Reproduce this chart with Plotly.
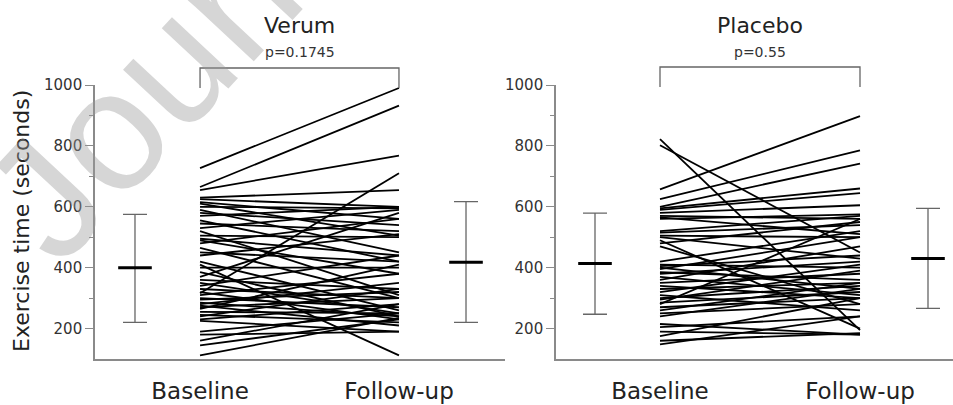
import plotly.graph_objects as go

# ---------------- data ----------------
verum_baseline = [727, 665, 655, 316, 630, 625, 615, 610, 600, 590,
                  580, 570, 555, 545, 530, 520, 505, 495, 490, 480,
                  465, 450, 440, 420, 410, 400, 385, 370, 360, 350,
                  340, 330, 320, 310, 300, 295, 285, 280, 275, 270,
                  265, 255, 245, 240, 230, 225, 190, 180, 160, 145, 112]
verum_followup = [990, 932, 768, 710, 655, 600, 560, 505, 595, 450,
                  540, 600, 420, 520, 590, 310, 500, 440, 380, 560,
                  300, 420, 510, 260, 112, 400, 240, 580, 330, 250,
                  440, 300, 230, 380, 270, 320, 240, 350, 210, 300,
                  410, 250, 220, 330, 280, 190, 250, 190, 280, 230, 235]

placebo_baseline = [822, 802, 657, 625, 600, 595, 590, 580, 570, 565,
                    560, 520, 515, 505, 500, 490, 480, 470, 420, 410,
                    405, 400, 395, 385, 380, 370, 360, 350, 340, 330,
                    320, 310, 300, 295, 285, 280, 270, 260, 250, 240,
                    215, 205, 190, 175, 160, 148]
placebo_followup = [195, 450, 898, 785, 742, 660, 645, 605, 560, 510,
                    575, 570, 540, 500, 430, 200, 550, 280, 520, 400,
                    440, 330, 500, 360, 420, 310, 470, 380, 300, 350,
                    410, 260, 340, 390, 320, 560, 300, 350, 280, 330,
                    180, 240, 180, 300, 185, 240]

# summary: mean, upper whisker, lower whisker  [baseline, follow-up]
verum_mean = [400, 418]
verum_upper = [575, 617]
verum_lower = [220, 220]
placebo_mean = [414, 430]
placebo_upper = [579, 595]
placebo_lower = [247, 266]

categories = ["Baseline", "Follow-up"]
cat_pos = [1, 2]
panel_titles = ["Verum", "Placebo"]
p_values = ["p=0.1745", "p=0.55"]
y_ticks = [200, 400, 600, 800, 1000]
y_minor = [300, 500, 700, 900]

# ---------------- styles ----------------
FONT = "DejaVu Sans"
AXIS_COL = "#8a8a8a"
ERR_COL = "#666666"
TXT = "#222222"

fig = go.Figure()


def pair_lines(b, f):
    xs, ys = [], []
    for yb, yf in zip(b, f):
        xs += [cat_pos[0], cat_pos[1], None]
        ys += [yb, yf, None]
    return xs, ys


panels = [
    (verum_baseline, verum_followup, verum_mean, verum_upper, verum_lower,
     "x", "y", [0.673, 2.337]),
    (placebo_baseline, placebo_followup, placebo_mean, placebo_upper, placebo_lower,
     "x2", "y2", [0.675, 2.34]),
]

for b, f, m, up, lo, xa, ya, sx in panels:
    xs, ys = pair_lines(b, f)
    fig.add_trace(go.Scatter(x=xs, y=ys, mode="lines", xaxis=xa, yaxis=ya,
                             line=dict(color="black", width=1.8),
                             showlegend=False, hoverinfo="skip"))
    fig.add_trace(go.Scatter(
        x=sx, y=m, mode="markers", xaxis=xa, yaxis=ya,
        marker=dict(symbol="line-ew", size=24,
                    line=dict(color="black", width=3)),
        error_y=dict(type="data", symmetric=False,
                     array=[u - mm for u, mm in zip(up, m)],
                     arrayminus=[mm - l for l, mm in zip(lo, m)],
                     color=ERR_COL, thickness=1.3, width=12),
        showlegend=False, hoverinfo="skip"))

xd1 = [95 / 953, 505 / 953]
xd2 = [556 / 953, 1.0]
yd = [1 - 359 / 405, 1 - 85 / 405]

common_x = dict(showline=True, linecolor=AXIS_COL, linewidth=1.6, automargin=False,
                ticks="", tickmode="array", tickvals=cat_pos, ticktext=categories,
                tickfont=dict(family=FONT, size=23, color=TXT),
                ticklabelstandoff=11, showgrid=False, zeroline=False)
common_y = dict(range=[100, 1000], showline=True, linecolor=AXIS_COL, linewidth=1.6,
                automargin=False,
                ticks="outside", ticklen=8, tickcolor=AXIS_COL, tickwidth=1.4,
                tickmode="array", tickvals=y_ticks,
                tickfont=dict(family=FONT, size=15, color="#333333"),
                minor=dict(tickmode="array", tickvals=y_minor, ticks="outside",
                           ticklen=4, tickcolor=AXIS_COL, tickwidth=1.2),
                showgrid=False, zeroline=False)

fig.update_layout(
    width=953, height=405,
    margin=dict(l=0, r=0, t=0, b=0),
    paper_bgcolor="white", plot_bgcolor="white",
    xaxis=dict(domain=xd1, range=[0.472, 2.533], anchor="y", **common_x),
    xaxis2=dict(domain=xd2, range=[0.48, 2.465], anchor="y2", **common_x),
    yaxis=dict(domain=yd, anchor="x", **common_y),
    yaxis2=dict(domain=yd, anchor="x2", **common_y),
)

# brackets, titles, p-values
for xr, top, bot, title, pv in [("x", 68, 88, panel_titles[0], p_values[0]),
                                ("x2", 67, 87, panel_titles[1], p_values[1])]:
    yt, yb = 1 - top / 405, 1 - bot / 405
    fig.add_shape(type="path", xref=xr, yref="paper",
                  path=f"M {cat_pos[0]},{yb} L {cat_pos[0]},{yt} L {cat_pos[1]},{yt} L {cat_pos[1]},{yb}",
                  line=dict(color=ERR_COL, width=1.3))
    fig.add_annotation(x=1.5, y=1 - 25 / 405, xref=xr, yref="paper", text=title,
                       showarrow=False, xanchor="center", yanchor="middle",
                       font=dict(family=FONT, size=22, color=TXT))
    fig.add_annotation(x=1.5, y=1 - 52 / 405, xref=xr, yref="paper", text=pv,
                       showarrow=False, xanchor="center", yanchor="middle",
                       font=dict(family=FONT, size=14, color="#333333"))

# y-axis title
fig.add_annotation(x=21 / 953, y=1 - 221 / 405, xref="paper", yref="paper",
                   text="Exercise time (seconds)", textangle=-90, showarrow=False,
                   xanchor="center", yanchor="middle",
                   font=dict(family=FONT, size=22, color=TXT))

# watermark
fig.add_annotation(x=206 / 953, y=1 - 26 / 405, xref="paper", yref="paper",
                   text="Journal", textangle=-47, showarrow=False,
                   xanchor="center", yanchor="middle", opacity=0.4,
                   font=dict(family="Liberation Sans", size=170, color="#9a9a9a"))

fig.write_html("out.html", config={"displayModeBar": False},
               post_script="document.body.style.margin='0';document.body.style.overflow='hidden';")
